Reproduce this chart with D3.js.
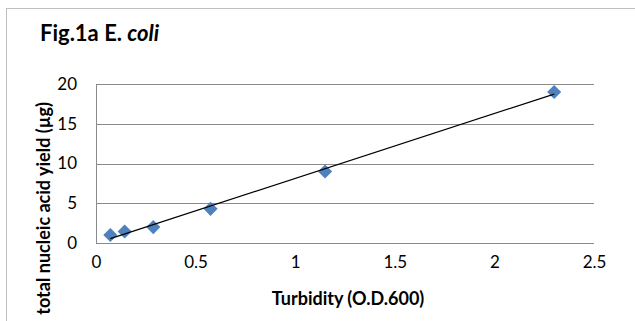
<!DOCTYPE html>
<html>
<head>
<meta charset="utf-8">
<script src="https://cdn.jsdelivr.net/npm/d3@7"></script>
<style>
  html, body { margin: 0; padding: 0; background: #fff; overflow: hidden; }
  svg { display: block; }
  text { font-family: Lato, "Open Sans", sans-serif; fill: #000; }
</style>
</head>
<body>
<svg id="chart" width="635" height="321"></svg>
<script>
// Turbidity of culture (O.D.600) and total nucleic acid yield (µg)
const turbidity = [0.072, 0.144, 0.2875, 0.575, 1.15, 2.3];
const yieldUg   = [1.0, 1.45, 2.0, 4.3, 9.0, 19.0];
const xTicks = [0, 0.5, 1, 1.5, 2, 2.5];
const yTicks = [0, 5, 10, 15, 20];
const xTickLabels = ["0", "0.5", "1", "1.5", "2", "2.5"];
const yTickLabels = ["0", "5", "10", "15", "20"];

const svg = d3.select("#chart");

// outer frame of the figure
svg.append("rect")
  .attr("x", 6.5).attr("y", 8.5)
  .attr("width", 700).attr("height", 400)
  .attr("fill", "#fff").attr("stroke", "#c0c0c0").attr("stroke-width", 1);

const plot = { left: 96, right: 594, top: 84, bottom: 243 };

const x = d3.scaleLinear().domain([0, 2.5]).range([plot.left, plot.right]);
const y = d3.scaleLinear().domain([0, 20]).range([plot.bottom, plot.top]);

// horizontal gridlines
svg.append("g")
  .selectAll("line")
  .data(yTicks)
  .join("line")
  .attr("x1", plot.left).attr("x2", plot.right)
  .attr("y1", d => Math.round(y(d)) + 0.5).attr("y2", d => Math.round(y(d)) + 0.5)
  .attr("stroke", "#8a8a8a").attr("stroke-width", 1);

// vertical value axis line
svg.append("line")
  .attr("x1", plot.left + 0.5).attr("x2", plot.left + 0.5)
  .attr("y1", Math.round(y(20)) + 0.5).attr("y2", Math.round(y(0)) + 0.5)
  .attr("stroke", "#8a8a8a").attr("stroke-width", 1);

// y tick labels
const yAxis = d3.axisLeft(y).tickValues(yTicks)
  .tickFormat((d, i) => yTickLabels[i]).tickSize(0).tickPadding(19);
const gy = svg.append("g").attr("transform", `translate(${plot.left},0)`).call(yAxis);
gy.select(".domain").remove();
gy.selectAll("text").style("font-family", "Lato, sans-serif").style("font-size", "17px").attr("fill", "#000");

// x tick labels
const xAxis = d3.axisBottom(x).tickValues(xTicks)
  .tickFormat((d, i) => xTickLabels[i]).tickSize(0).tickPadding(13);
const gx = svg.append("g").attr("transform", `translate(0,${plot.bottom})`).call(xAxis);
gx.select(".domain").remove();
gx.selectAll("text").style("font-family", "Lato, sans-serif").style("font-size", "17px").attr("fill", "#000");

// linear trendline (least squares) over the data range
const n = turbidity.length;
const mx = d3.mean(turbidity), my = d3.mean(yieldUg);
let sxy = 0, sxx = 0;
for (let i = 0; i < n; i++) {
  sxy += (turbidity[i] - mx) * (yieldUg[i] - my);
  sxx += (turbidity[i] - mx) ** 2;
}
const slope = sxy / sxx, intercept = my - slope * mx;
const x0 = d3.min(turbidity), x1 = d3.max(turbidity);

// data markers (diamonds)
svg.append("g")
  .selectAll("path")
  .data(turbidity.map((t, i) => [t, yieldUg[i]]))
  .join("path")
  .attr("d", d3.symbol().type(d3.symbolSquare).size(100))
  .attr("transform", d => `translate(${x(d[0])},${y(d[1])}) rotate(45)`)
  .attr("fill", "#4f81bd");

svg.append("line")
  .attr("x1", x(x0)).attr("y1", y(slope * x0 + intercept))
  .attr("x2", x(x1)).attr("y2", y(slope * x1 + intercept))
  .attr("stroke", "#000").attr("stroke-width", 1.2);

// title
const title = svg.append("text")
  .attr("x", 40).attr("y", 41)
  .style("font-size", "22px").style("font-weight", "bold");
title.append("tspan").text("Fig.1a E. ");
title.append("tspan").style("font-style", "italic").text("coli");

// axis titles
svg.append("text")
  .attr("x", 348).attr("y", 305)
  .attr("text-anchor", "middle")
  .style("font-size", "18px").style("font-weight", "bold")
  .text("Turbidity (O.D.600)");

svg.append("text")
  .attr("transform", "translate(50,102) rotate(-90)")
  .attr("text-anchor", "end")
  .style("font-size", "18px").style("font-weight", "bold")
  .text("total nucleic acid yield (µg)");
</script>
</body>
</html>
